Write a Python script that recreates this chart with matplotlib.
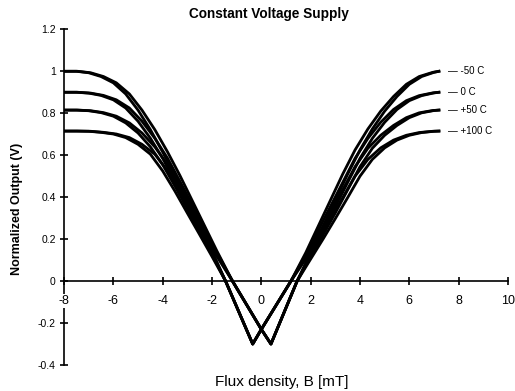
import matplotlib
matplotlib.use("Agg")
import matplotlib.pyplot as plt

plt.rcParams['font.family'] = ['Liberation Sans', 'DejaVu Sans']

# flux density sample points on the outer arms [mT], one set per sweep direction
B_left_down = [-8, -7.5, -7, -6.5, -6, -5.5, -5, -4.5, -4, -3.5, -3, -2.5, -2]
B_left_up = [-8, -7.45, -6.92, -6.4, -5.88, -5.35, -4.84, -4.32, -3.8, -3.3, -2.8, -2.3, -1.8]
B_right_down = [1.8, 2.3, 2.8, 3.3, 3.8, 4.32, 4.84, 5.36, 5.88, 6.4, 6.95, 7.2]
B_right_up = [2, 2.5, 3, 3.5, 4, 4.5, 5, 5.5, 6, 6.5, 7, 7.2]

# centre of the hysteresis loop (all temperatures meet here)
B_down = [-1.45, -0.35, 0, 1.2]
V_down = [0.0, -0.30, -0.23, 0.0]
B_up = [-1.17, 0, 0.39, 1.45]
V_up = [0.0, -0.23, -0.30, 0.0]

temps = ['-50 C', '0 C', '+50 C', '+100 C']

left_m50 = [1.000, 1.000, 0.993, 0.975, 0.945, 0.892, 0.815, 0.722, 0.615, 0.503, 0.383, 0.263, 0.143]
left_0 = [0.900, 0.900, 0.896, 0.885, 0.864, 0.825, 0.762, 0.681, 0.585, 0.475, 0.363, 0.249, 0.135]
left_p50 = [0.815, 0.815, 0.812, 0.803, 0.786, 0.754, 0.706, 0.640, 0.555, 0.452, 0.344, 0.235, 0.126]
left_p100 = [0.715, 0.715, 0.714, 0.709, 0.701, 0.684, 0.652, 0.605, 0.525, 0.428, 0.324, 0.221, 0.117]

right_m50 = [0.135, 0.260, 0.385, 0.510, 0.625, 0.725, 0.810, 0.880, 0.938, 0.975, 0.995, 1.000]
right_0 = [0.125, 0.240, 0.355, 0.470, 0.585, 0.680, 0.757, 0.818, 0.860, 0.884, 0.897, 0.900]
right_p50 = [0.115, 0.220, 0.325, 0.435, 0.545, 0.633, 0.695, 0.742, 0.779, 0.802, 0.813, 0.815]
right_p100 = [0.105, 0.200, 0.298, 0.398, 0.500, 0.580, 0.635, 0.672, 0.695, 0.708, 0.714, 0.715]

lefts = [left_m50, left_0, left_p50, left_p100]
rights = [right_m50, right_0, right_p50, right_p100]

xticks = [-8, -6, -4, -2, 0, 2, 4, 6, 8, 10]
yticks = [-0.4, -0.2, 0, 0.2, 0.4, 0.6, 0.8, 1, 1.2]
ylabels = ['-0.4', '-0.2', '0', '0.2', '0.4', '0.6', '0.8', '1', '1.2']

fig = plt.figure(figsize=(5.15, 3.91), dpi=100)
ax = fig.add_axes([0.1243, 0.0665, 0.8621, 0.8585])

for name, lv, rv in zip(temps, lefts, rights):
    # down sweep and up sweep of the loop
    ax.plot(B_left_down + B_down + B_right_down, lv + V_down + rv,
            color='black', lw=2.0, solid_joinstyle='round')
    ax.plot(B_left_up + B_up + B_right_up, lv + V_up + rv,
            color='black', lw=2.0, solid_joinstyle='round')
    ax.annotate('\u2014 ' + name, xy=(B_right_up[-1], rv[-1]), xytext=(6.5, 0),
                textcoords='offset points', va='center', ha='left', fontsize=7)

ax.set_xlim(-8, 10)
ax.set_ylim(-0.4, 1.2)
ax.spines['top'].set_visible(False)
ax.spines['right'].set_visible(False)
ax.spines['bottom'].set_position(('data', 0))
ax.spines['left'].set_linewidth(1.2)
ax.spines['bottom'].set_linewidth(1.2)
ax.spines['left'].set_zorder(1)

ax.set_xticks(xticks)
ax.set_xticklabels([str(t) for t in xticks])
ax.set_yticks(yticks)
ax.set_yticklabels(ylabels)
ax.tick_params(direction='inout', length=6, width=1.2)
ax.tick_params(axis='x', pad=7, labelsize=9)
ax.tick_params(axis='y', pad=3, labelsize=7.5)
for lab in ax.get_xticklabels():
    lab.set_bbox(dict(facecolor='white', edgecolor='none', pad=1))

fig.text(0.522, 0.963, 'Constant Voltage Supply', ha='center', va='center',
         fontsize=9.8, fontweight='bold')
fig.text(0.033, 0.465, 'Normalized Output (V)', ha='center', va='center',
         rotation=90, fontsize=9, fontweight='bold')
fig.text(0.547, 0.024, 'Flux density, B [mT]', ha='center', va='center', fontsize=11)

fig.savefig('out.png', dpi=100)
